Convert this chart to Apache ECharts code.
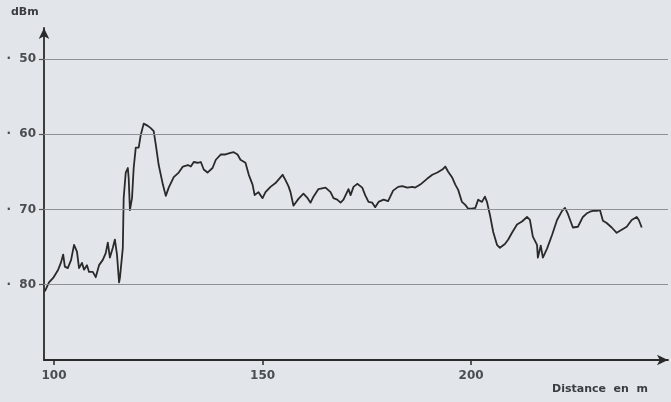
<!DOCTYPE html>
<html>
<head>
<meta charset="utf-8">
<style>
  html, body { margin: 0; padding: 0; background: #e2e5ea; }
  #chart { width: 671px; height: 402px; }
</style>
<script src="https://cdn.jsdelivr.net/npm/echarts@6/dist/echarts.min.js"></script>
</head>
<body>
<div id="chart"></div>
<script>
// Received level along the path: distance (m) and level (dBm)
const distance = [
  97.8, 98.8, 99.8, 100.1, 101.0, 101.7, 102.2, 102.6, 103.3, 104.1,
  104.8, 105.5, 106.0, 106.7, 107.2, 107.9, 108.4, 109.3, 110.0, 110.8,
  111.7, 112.4, 112.9, 113.4, 114.1, 114.6, 115.1, 115.6, 115.8, 116.5,
  116.7, 117.2, 117.7, 117.9, 118.2, 118.7, 119.1, 119.6, 120.3, 120.8,
  121.5, 122.5, 123.2, 123.9, 124.4, 125.1, 126.1, 126.8, 127.5, 128.7,
  129.9, 130.9, 132.1, 132.8, 133.5, 134.4, 135.2, 135.9, 136.8, 138.0,
  138.8, 140.0, 141.1, 142.3, 143.1, 144.0, 144.7, 145.9, 146.7, 147.6,
  148.1, 149.0, 150.0, 150.7, 151.9, 153.1, 154.8, 155.5, 156.2, 156.7,
  157.4, 158.6, 159.8, 160.8, 161.5, 162.2, 163.4, 165.1, 166.3, 167.0,
  167.9, 168.7, 169.4, 170.6, 171.1, 171.8, 172.7, 173.9, 174.6, 175.4,
  176.3, 177.0, 177.8, 179.0, 180.1, 181.3, 182.5, 183.5, 184.7, 185.9,
  186.6, 187.8, 189.5, 190.7, 191.9, 193.1, 193.8, 194.5, 195.5, 196.2,
  196.9, 197.8, 198.6, 199.3, 200.2, 201.0, 201.7, 202.6, 203.3, 203.8,
  204.5, 205.3, 206.2, 206.9, 208.1, 208.9, 209.8, 211.0, 212.2, 213.4,
  214.1, 214.8, 215.8, 216.0, 216.7, 217.2, 218.2, 219.4, 220.6, 221.8,
  222.5, 223.2, 224.4, 225.6, 226.8, 227.8, 228.5, 229.2, 230.1, 230.9,
  231.6, 232.5, 233.7, 234.9, 236.1, 237.3, 238.5, 239.7, 240.2, 240.9
];
const level = [
  -80.9, -79.7, -79.1, -79.3, -78.0, -77.0, -76.0, -77.6, -77.8, -76.7,
  -74.7, -75.6, -77.8, -77.1, -78.0, -77.4, -78.3, -78.3, -79.0, -77.4,
  -76.7, -75.8, -74.4, -76.4, -75.1, -74.0, -76.0, -79.7, -79.1, -75.1,
  -68.5, -65.1, -64.5, -65.8, -70.1, -68.5, -64.5, -61.8, -61.8, -60.1,
  -58.6, -58.9, -59.2, -59.6, -61.4, -64.1, -66.7, -68.2, -67.1, -65.7,
  -65.1, -64.3, -64.1, -64.3, -63.7, -63.8, -63.7, -64.7, -65.1, -64.5,
  -63.4, -62.7, -62.7, -62.5, -62.4, -62.7, -63.4, -63.8, -65.4, -66.7,
  -68.1, -67.7, -68.5, -67.7, -67.0, -66.5, -65.4, -66.1, -66.9, -67.7,
  -69.5, -68.6, -67.9, -68.5, -69.1, -68.3, -67.3, -67.1, -67.7, -68.5,
  -68.7, -69.1, -68.7, -67.3, -68.1, -67.0, -66.6, -67.1, -68.1, -69.0,
  -69.1, -69.7, -69.0, -68.7, -68.9, -67.5, -67.0, -66.9, -67.1, -67.0,
  -67.1, -66.7, -65.9, -65.4, -65.1, -64.7, -64.3, -65.0, -65.8, -66.7,
  -67.4, -69.0, -69.4, -69.9, -69.9, -69.8, -68.7, -69.0, -68.3, -69.0,
  -70.7, -73.0, -74.7, -75.1, -74.6, -74.0, -73.1, -72.0, -71.6, -71.0,
  -71.4, -73.6, -74.7, -76.4, -74.8, -76.4, -75.2, -73.4, -71.4, -70.2,
  -69.8, -70.6, -72.4, -72.3, -71.0, -70.5, -70.3, -70.2, -70.2, -70.1,
  -71.5, -71.8, -72.4, -73.1, -72.7, -72.3, -71.4, -71.0, -71.4, -72.4
];

// Labelled ticks on each axis
const xTickValues = [100, 150, 200];
const yTickValues = [-50, -60, -70, -80];

const ink = '#2a2a2a';
const labelColor = '#4a4d52';
const labelFont = '"DejaVu Sans", "Liberation Sans", sans-serif';

const chart = echarts.init(document.getElementById('chart'));

chart.setOption({
  backgroundColor: '#e2e5ea',
  animation: false,
  grid: { left: 44, right: 3, top: 28, bottom: 42 },
  xAxis: {
    type: 'value',
    min: 97.6,
    max: 247.2,
    axisLine: {
      show: true,
      symbol: ['none', 'arrow'],
      symbolSize: [8, 11],
      lineStyle: { color: ink, width: 1.8 }
    },
    axisTick: {
      show: true,
      customValues: xTickValues,
      length: 5,
      lineStyle: { color: ink, width: 1.5 }
    },
    axisLabel: {
      customValues: xTickValues,
      margin: 10,
      color: labelColor,
      fontFamily: labelFont,
      fontWeight: 'bold',
      fontSize: 12
    },
    splitLine: { show: false }
  },
  yAxis: {
    type: 'value',
    min: -90,
    max: -45.9,
    axisLine: {
      show: true,
      symbol: ['none', 'arrow'],
      symbolSize: [8, 11],
      lineStyle: { color: ink, width: 1.8 }
    },
    axisTick: {
      show: true,
      customValues: yTickValues,
      length: 5,
      lineStyle: { color: '#555', width: 1.2 }
    },
    axisLabel: {
      customValues: yTickValues,
      margin: 8,
      color: labelColor,
      fontFamily: labelFont,
      fontWeight: 'bold',
      fontSize: 12,
      formatter: v => '·  ' + Math.abs(v)
    },
    splitLine: { show: false }
  },
  graphic: [
    {
      type: 'text', left: 11, top: 7,
      style: {
        text: 'dBm', fill: '#3a3d42',
        font: 'bold 11px "DejaVu Sans", sans-serif'
      }
    },
    {
      type: 'text', left: 552, top: 384,
      style: {
        text: 'Distance  en  m', fill: '#3a3d42',
        font: 'bold 11px "DejaVu Sans", sans-serif'
      }
    }
  ],
  series: [{
    type: 'line',
    data: distance.map((d, i) => [d, level[i]]),
    showSymbol: false,
    smooth: false,
    lineStyle: { color: ink, width: 1.8, join: 'round' },
    markLine: {
      silent: true,
      symbol: ['none', 'none'],
      label: { show: false },
      lineStyle: { color: '#8d9096', width: 1, type: 'solid' },
      data: yTickValues.map(v => ({ yAxis: v }))
    },
    z: 3
  }]
});
</script>
</body>
</html>
